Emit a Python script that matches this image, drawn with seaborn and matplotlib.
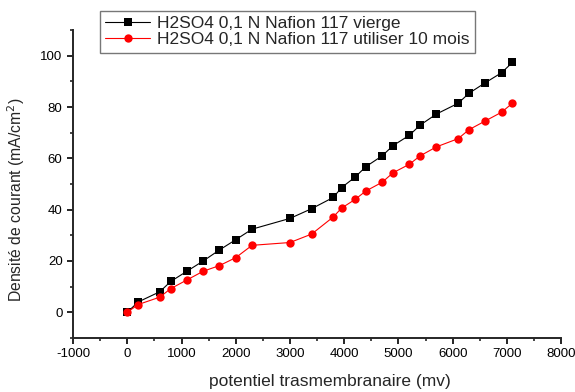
import pandas as pd
import matplotlib.pyplot as plt
import seaborn as sns
from matplotlib.ticker import MultipleLocator

# Data
potentiel = [0, 200, 600, 800, 1100, 1400, 1700, 2000, 2300, 3000, 3400, 3800, 3950,
             4200, 4400, 4700, 4900, 5200, 5400, 5700, 6100, 6300, 6600, 6900, 7100]
vierge = [0, 4, 8, 12, 16, 20, 24.3, 28.3, 32.4, 36.6, 40.4, 44.8, 48.6,
          52.7, 56.8, 61, 65, 69, 73, 77.3, 81.5, 85.4, 89.5, 93.4, 97.4]
utilise = [0, 3, 5.9, 9.2, 12.6, 16, 18.2, 21.3, 26.1, 27.2, 30.5, 37.2, 40.6,
           44, 47.3, 50.7, 54.4, 57.7, 61, 64.5, 67.7, 71.2, 74.6, 78, 81.5]
labels = ["H2SO4 0,1 N Nafion 117 vierge", "H2SO4 0,1 N Nafion 117 utiliser 10 mois"]

df = pd.DataFrame({
    'potentiel': potentiel * 2,
    'courant': vierge + utilise,
    'serie': [labels[0]] * len(potentiel) + [labels[1]] * len(potentiel),
})

sns.set_style('ticks')
plt.rcParams['font.family'] = ['Liberation Sans', 'DejaVu Sans']
plt.rcParams['axes.unicode_minus'] = False

fig = plt.figure(figsize=(5.75, 3.92), dpi=100)
ax = fig.add_axes([0.127, 0.138, 0.849, 0.785])

sns.lineplot(data=df, x='potentiel', y='courant', hue='serie', style='serie',
             palette=['black', 'red'], markers=['s', 'o'], dashes=False,
             markersize=6, markeredgewidth=0, linewidth=0.8, sort=False, ax=ax)

ax.set_xlim(-1000, 8000)
ax.set_ylim(-10, 110)
ax.xaxis.set_major_locator(MultipleLocator(1000))
ax.xaxis.set_minor_locator(MultipleLocator(500))
ax.yaxis.set_major_locator(MultipleLocator(20))
ax.yaxis.set_minor_locator(MultipleLocator(10))
ax.tick_params(which='major', length=4, width=1.2, labelsize=9.5, colors='black')
ax.tick_params(which='minor', length=2.5, width=1.2)
sns.despine(ax=ax)
for s in ['left', 'bottom']:
    ax.spines[s].set_linewidth(1.4)

ax.set_xlabel('potentiel trasmembranaire (mv)', fontsize=12.5)
ax.set_ylabel('Densité de courant (mA/cm$^2$)', fontsize=11.3)
ax.xaxis.set_label_coords(0.527, -0.118)
ax.yaxis.set_label_coords(-0.094, 0.448)

leg = ax.legend(loc='upper left', bbox_to_anchor=(100 / 575, 1 - 11 / 392),
                bbox_transform=fig.transFigure, frameon=True, fancybox=False,
                fontsize=12.5, handlelength=2.6, handletextpad=0.4, borderpad=0.3,
                labelspacing=0.05, borderaxespad=0)
leg.get_frame().set_edgecolor('#555555')
leg.get_frame().set_linewidth(1.0)

plt.savefig('out.png', dpi=100)
plt.close()
